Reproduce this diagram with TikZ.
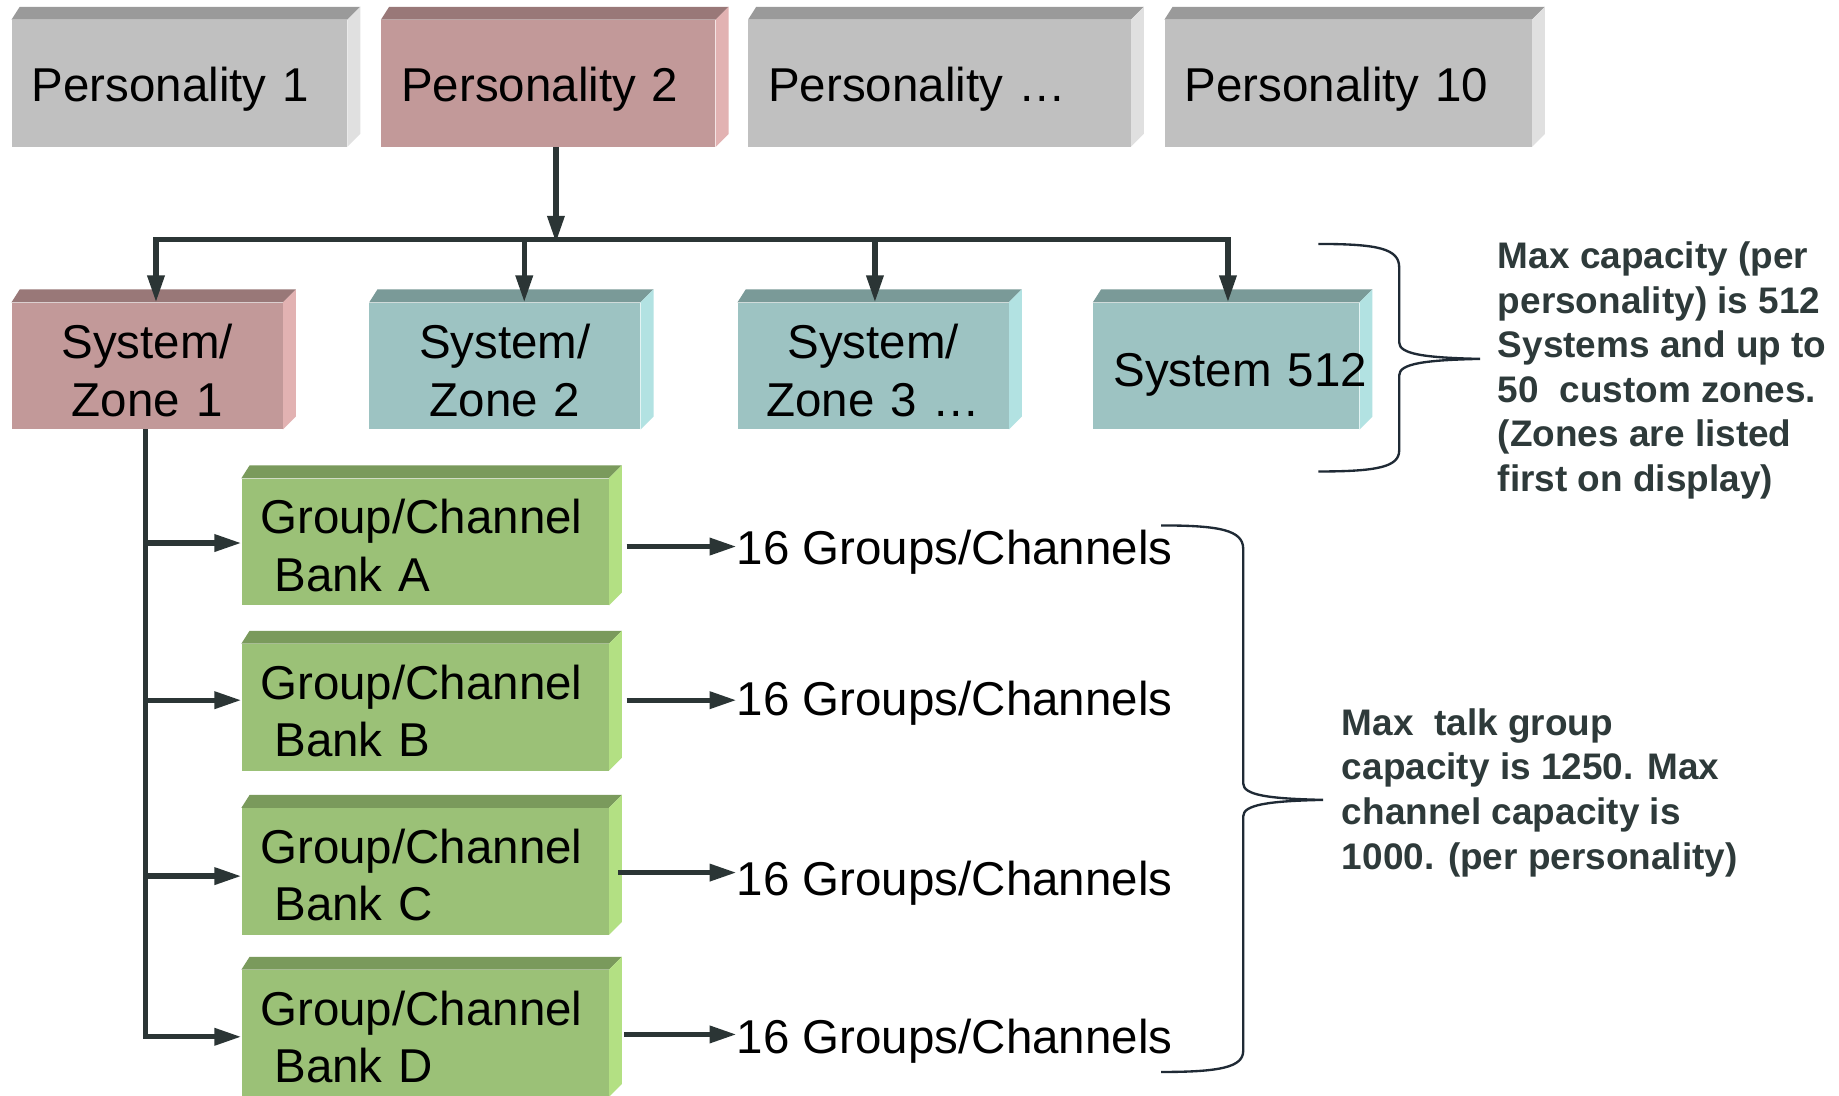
\documentclass[tikz,border=0pt]{standalone}
\usepackage{fontspec}
\setmainfont{Liberation Sans}
\usetikzlibrary{arrows.meta}
\definecolor{graytop}{HTML}{9A9A9A}
\definecolor{grayfront}{HTML}{C0C0C0}
\definecolor{grayside}{HTML}{E0E0E0}
\definecolor{pinktop}{HTML}{997878}
\definecolor{pinkfront}{HTML}{C29999}
\definecolor{pinkside}{HTML}{E2B2B2}
\definecolor{tealtop}{HTML}{7A9A98}
\definecolor{tealfront}{HTML}{9DC3C2}
\definecolor{tealside}{HTML}{B2E2E2}
\definecolor{greentop}{HTML}{7A9A5C}
\definecolor{greenfront}{HTML}{9BC177}
\definecolor{greenside}{HTML}{B3E083}
\definecolor{linecol}{HTML}{2B3535}
\definecolor{bracecol}{HTML}{1F2A35}
\definecolor{notecol}{HTML}{2E3A3A}
\pgfdeclarelayer{bglayer}
\pgfsetlayers{bglayer,main}
\newcommand\solidfaces[3]{%
  \begin{pgfonlayer}{bglayer}
  \fill[#2] (#1.north west) -- ++(7,-11) -- ([shift={(11,-11)}]#1.north east) -- (#1.north east) -- cycle;
  \fill[#3] (#1.north east) -- ++(11,-11) -- ([shift={(11,-11)}]#1.south east) -- (#1.south east) -- cycle;
  \end{pgfonlayer}
}
\tikzset{
  Tri/.tip={Triangle[length=23pt,width=14pt]},
  face/.style={inner sep=0pt, minimum height=108pt, font=\fontsize{40.5}{49}\selectfont},
  conn/.style={draw=linecol, line width=4.5pt, line join=miter, -Tri},
  lbl/.style={inner sep=0pt, font=\fontsize{40.5}{49}\selectfont, anchor=west},
  note/.style={inner sep=0pt, anchor=north west, align=left, text=notecol,
    font=\bfseries\fontsize{31.5}{38}\selectfont},
  brace/.style={draw=bracecol, line width=2pt}
}
\begin{document}
\begin{tikzpicture}[x=1pt,y=-1pt]
\useasboundingbox (0,0) rectangle (1568,934);
\begin{pgfonlayer}{bglayer}
\fill[white] (0,0) rectangle (1568,934);
\end{pgfonlayer}
% top row
\node[face, fill=grayfront, minimum width=286pt, text width=252pt, align=left] (p1) at (153,71) {\rule{0pt}{40pt}Personality 1};
\solidfaces{p1}{graytop}{grayside}
\node[face, fill=pinkfront, minimum width=285pt, text width=251pt, align=left] (p2) at (467.5,71) {\rule{0pt}{40pt}Personality 2};
\solidfaces{p2}{pinktop}{pinkside}
\node[face, fill=grayfront, minimum width=326pt, text width=292pt, align=left] (p3) at (801,71) {\rule{0pt}{40pt}Personality …};
\solidfaces{p3}{graytop}{grayside}
\node[face, fill=grayfront, minimum width=313pt, text width=279pt, align=left] (p4) at (1149.5,71) {\rule{0pt}{40pt}Personality 10};
\solidfaces{p4}{graytop}{grayside}
% system row
\node[face, fill=pinkfront, minimum width=231pt, text width=231pt, align=center] (s1) at (125.5,312) {\rule{0pt}{37pt}System/\\Zone 1};
\solidfaces{s1}{pinktop}{pinkside}
\node[face, fill=tealfront, minimum width=231pt, text width=231pt, align=center] (s2) at (430.5,312) {\rule{0pt}{37pt}System/\\Zone 2};
\solidfaces{s2}{tealtop}{tealside}
\node[face, fill=tealfront, minimum width=231pt, text width=231pt, align=center] (s3) at (744.5,312) {\rule{0pt}{37pt}System/\\Zone 3 …};
\solidfaces{s3}{tealtop}{tealside}
\node[face, fill=tealfront, minimum width=227pt, text width=227pt, align=center] (s4) at (1045.5,312) {\rule{0pt}{43pt}\makebox[0pt]{\hspace*{24pt}System 512}};
\solidfaces{s4}{tealtop}{tealside}
% green banks
\node[face, fill=greenfront, minimum width=313pt, text width=281pt, align=left] (gA) at (362.5,462) {\rule{0pt}{35.5pt}Group/Channel\\\hspace*{12pt}Bank A};
\solidfaces{gA}{greentop}{greenside}
\node[face, fill=greenfront, minimum width=313pt, text width=281pt, align=left] (gB) at (362.5,603) {\rule{0pt}{35.5pt}Group/Channel\\\hspace*{12pt}Bank B};
\solidfaces{gB}{greentop}{greenside}
\node[face, fill=greenfront, minimum width=313pt, text width=281pt, align=left] (gC) at (362.5,743) {\rule{0pt}{35.5pt}Group/Channel\\\hspace*{12pt}Bank C};
\solidfaces{gC}{greentop}{greenside}
\node[face, fill=greenfront, minimum width=313pt, text width=281pt, align=left] (gD) at (362.5,881) {\rule{0pt}{35.5pt}Group/Channel\\\hspace*{12pt}Bank D};
\solidfaces{gD}{greentop}{greenside}
% labels
\node[lbl] (tA) at (628,471) {16 Groups/Channels};
\node[lbl] (tB) at (628,600) {16 Groups/Channels};
\node[lbl] (tC) at (628,753) {16 Groups/Channels};
\node[lbl] (tD) at (628,888) {16 Groups/Channels};
\coordinate (aA) at ([yshift=5pt]tA.west);
\coordinate (aB) at ([yshift=3pt]tB.west);
\coordinate (aC) at ([yshift=9pt]tC.west);
\coordinate (aD) at ([yshift=6pt]tD.west);
% bus
\coordinate (bus) at (474,207);
\coordinate (b1) at (133,204);
\coordinate (b2) at (447,204);
\coordinate (b3) at (746,204);
\coordinate (b4) at (1047,204);
\draw[conn] (bus |- p2.south) -- (bus);
\draw[conn, arrows=Tri-Tri] (b1 |- s1.north) -- (b1) -- (b4) -- (b4 |- s4.north);
\draw[conn] (b2) -- (b2 |- s2.north);
\draw[conn] (b3) -- (b3 |- s3.north);
% vertical feeder
\coordinate (jA) at (124,463);
\coordinate (jB) at (124,597);
\coordinate (jC) at (124,747);
\coordinate (jD) at (124,884);
\draw[conn] (s1.south -| jD) -- (jD) -- (jD -| gD.west);
\draw[conn] (jA) -- (jA -| gA.west);
\draw[conn] (jB) -- (jB -| gB.west);
\draw[conn] (jC) -- (jC -| gC.west);
% to labels
\draw[conn, shorten <=15pt] (aA -| gA.east) -- (aA);
\draw[conn, shorten <=15pt] (aB -| gB.east) -- (aB);
\draw[conn, shorten <=8pt] (aC -| gC.east) -- (aC);
\draw[conn, shorten <=13pt] (aD -| gD.east) -- (aD);
% braces
\draw[brace] (1124,208) .. controls (1175,208) and (1193,212) .. (1193,228) -- (1193,292)
  .. controls (1193,302) and (1215,305) .. (1262,306)
  .. controls (1215,307) and (1193,310) .. (1193,320) -- (1193,384)
  .. controls (1193,398) and (1175,402) .. (1124,402);
\draw[brace] (990,448) .. controls (1040,448) and (1060,452) .. (1060,468) -- (1060,668)
  .. controls (1060,678) and (1082,681) .. (1128,682)
  .. controls (1082,683) and (1060,686) .. (1060,696) -- (1060,896)
  .. controls (1060,910) and (1040,914) .. (990,914);
% notes
\node[note] (n1) at (1277,206) {Max capacity (per\\personality) is 512\\Systems and up to\\50\ \ custom zones.\\(Zones are listed\\first on display)};
\node[note] (n2) at (1144,604) {Max\ \ talk group\\capacity is 1250. Max\\channel capacity is\\1000. (per personality)};
\end{tikzpicture}
\end{document}
